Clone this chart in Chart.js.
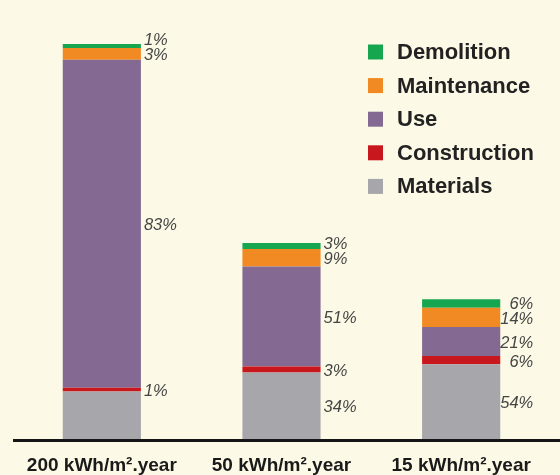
<!DOCTYPE html>
<html>
<head>
<meta charset="utf-8">
<script src="https://cdn.jsdelivr.net/npm/chart.js@4"></script>
<style>
    html, body { margin: 0; padding: 0; background: #fcfae6; }
    #wrap { width: 560px; height: 475px; position: relative; }
</style>
</head>
<body>
<div id="wrap"><canvas id="lifeChart"></canvas></div>
<script>
// building energy classes
const categories = ["200 kWh/m².year", "50 kWh/m².year", "15 kWh/m².year"];
// total life-cycle energy of each building, relative to the 200 kWh one
const totals = [100, 49.6, 35];

// share of each phase in the total, in %
const materials    = [12, 34, 54];
const construction = [1, 3, 6];
const use          = [83, 51, 21];
const maintenance  = [3, 9, 14];
const demolition   = [1, 3, 6];

// materials share of the first bar has no label
const materialsLabelled = [false, true, true];

const phases = [
    { label: "Materials", shares: materials, color: "#a6a6ab" },
    { label: "Construction", shares: construction, color: "#c9181d" },
    { label: "Use", shares: use, color: "#846a92" },
    { label: "Maintenance", shares: maintenance, color: "#f28a24" },
    { label: "Demolition", shares: demolition, color: "#17a650" }
];

const datasets = phases.map(p => ({
    label: p.label,
    data: p.shares.map((s, i) => s * totals[i] / 100),
    shares: p.shares,
    backgroundColor: p.color,
    borderWidth: 0,
    barPercentage: 1,
    categoryPercentage: 0.435
}));

// percent labels next to each segment
const shareLabels = {
    id: "shareLabels",
    afterDatasetsDraw(chart) {
        const ctx = chart.ctx;
        ctx.save();
        ctx.font = "italic 16.5px 'Liberation Sans', Arial, sans-serif";
        ctx.fillStyle = "#454545";
        ctx.textBaseline = "middle";
        for (let i = 0; i < categories.length; i++) {
            let prevY = Infinity;
            for (let d = 0; d < chart.data.datasets.length; d++) {
                if (d === 0 && !materialsLabelled[i]) continue;
                const bar = chart.getDatasetMeta(d).data[i];
                const center = (bar.y + bar.base) / 2;
                let y = Math.min(center + 2, prevY - 15);
                prevY = y;
                const right = bar.x + bar.width / 2;
                const txt = chart.data.datasets[d].shares[i] + "%";
                if (i === 2) {
                    ctx.textAlign = "right";
                    ctx.fillText(txt, right + 33, y);
                } else {
                    ctx.textAlign = "left";
                    ctx.fillText(txt, right + 3, y);
                }
            }
        }
        ctx.restore();
    }
};

// baseline and legend box
const decorations = {
    id: "decorations",
    afterDraw(chart) {
        const ctx = chart.ctx;
        const area = chart.chartArea;
        ctx.save();
        ctx.fillStyle = "#151515";
        ctx.fillRect(13, area.bottom, chart.width - 13, 3);

        const sets = chart.data.datasets.slice().reverse();
        ctx.font = "bold 22px 'Liberation Sans', Arial, sans-serif";
        ctx.textBaseline = "middle";
        ctx.textAlign = "left";
        sets.forEach((ds, k) => {
            const y = 52 + k * 33.6;
            ctx.fillStyle = ds.backgroundColor;
            ctx.fillRect(368, y - 7.5, 15, 15);
            ctx.fillStyle = "#222222";
            ctx.fillText(ds.label, 397, y + 1);
        });
        ctx.restore();
    }
};

new Chart(document.getElementById("lifeChart"), {
    type: "bar",
    data: { labels: categories, datasets: datasets },
    options: {
        responsive: true,
        maintainAspectRatio: false,
        animation: false,
        layout: { padding: { top: 44, left: 12, right: 9, bottom: 0 } },
        plugins: {
            legend: { display: false },
            tooltip: { enabled: false }
        },
        scales: {
            x: {
                stacked: true,
                grid: { display: false, drawTicks: false },
                border: { display: false },
                afterFit(scale) { scale.height = 36; },
                ticks: {
                    color: "#1a1a1a",
                    padding: 15,
                    font: { family: "'Liberation Sans', Arial, sans-serif", size: 19, weight: "bold" }
                }
            },
            y: {
                stacked: true,
                display: false,
                min: 0,
                max: 100
            }
        }
    },
    plugins: [shareLabels, decorations]
});
</script>
</body>
</html>
